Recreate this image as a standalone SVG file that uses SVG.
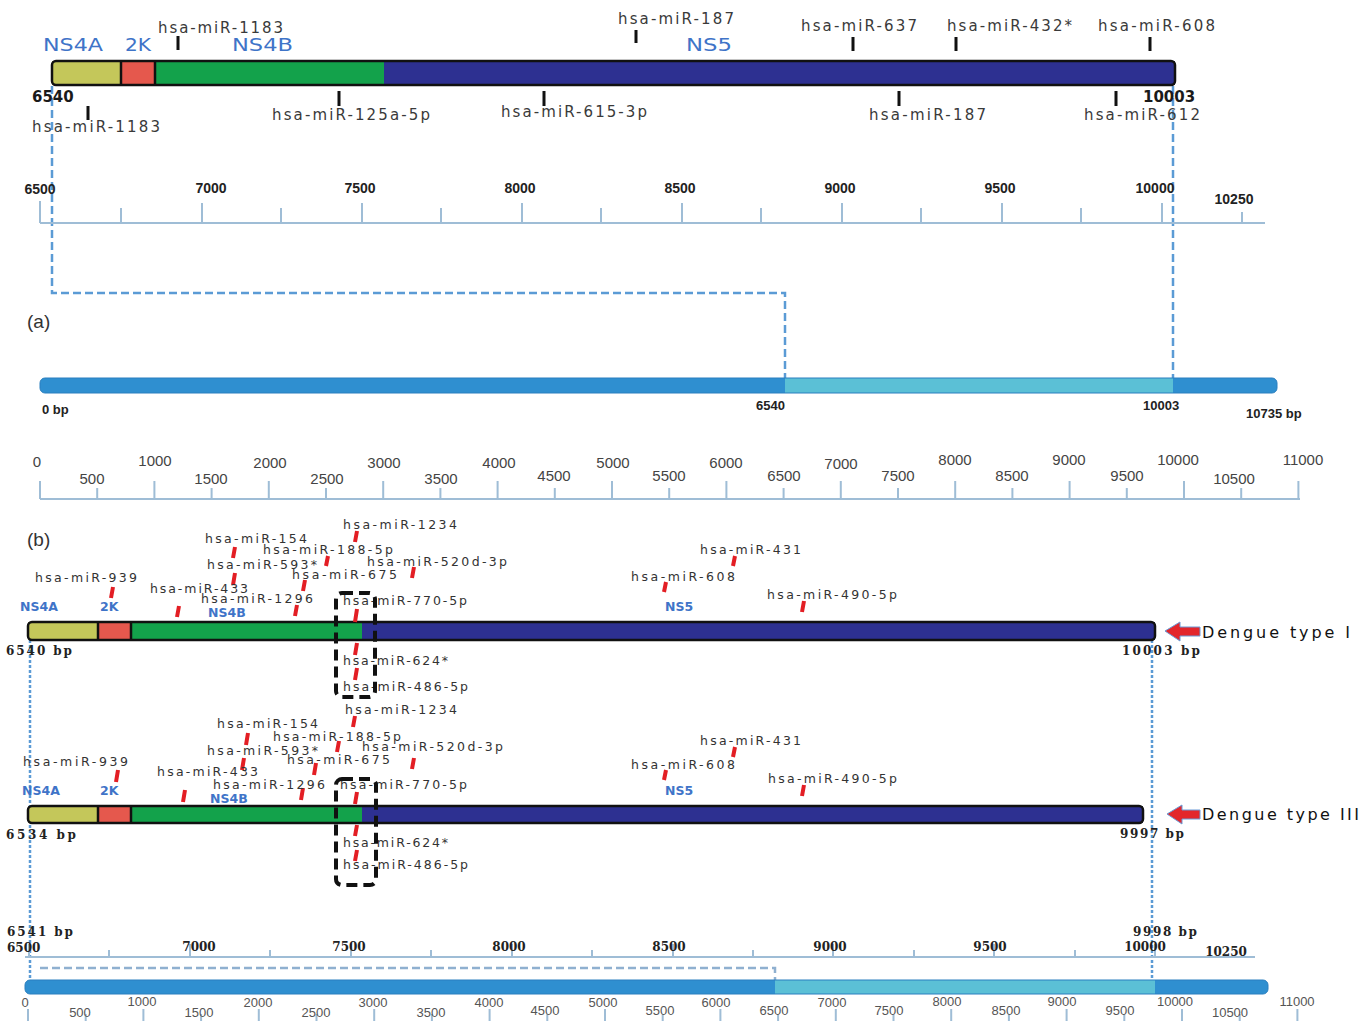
<svg xmlns="http://www.w3.org/2000/svg" width="1359" height="1021" viewBox="0 0 1359 1021">
<style>
.lt{font-family:"DejaVu Sans","Liberation Sans",sans-serif;font-size:15px;fill:#3a3a3a}
.gt{font-family:"DejaVu Sans","Liberation Sans",sans-serif;font-size:18px;fill:#3f74c8}
.nb{font-family:"DejaVu Sans","Liberation Sans",sans-serif;font-weight:bold;font-size:15px;fill:#1a1a1a}
.r1{font-family:"Liberation Sans",Arial,sans-serif;font-weight:bold;font-size:14px;fill:#222;text-anchor:middle}
.r2{font-family:"Liberation Sans",Arial,sans-serif;font-size:15px;fill:#444;text-anchor:middle}
.r4{font-family:"Liberation Sans",Arial,sans-serif;font-size:13px;fill:#555;text-anchor:middle}
.mb{font-family:"Liberation Sans",Arial,sans-serif;font-weight:bold;font-size:13px;fill:#222}
.mi{font-family:"DejaVu Sans","Liberation Sans",sans-serif;font-size:12.5px;fill:#333}
.gb{font-family:"DejaVu Sans","Liberation Sans",sans-serif;font-weight:bold;font-size:12.5px;fill:#3f74c8}
.sb{font-family:"DejaVu Serif","Liberation Serif",serif;font-weight:bold;font-size:12px;fill:#222}
.sbm{font-family:"DejaVu Serif","Liberation Serif",serif;font-weight:bold;font-size:12px;fill:#222;text-anchor:middle}
.dg{font-family:"DejaVu Sans","Liberation Sans",sans-serif;font-size:16px;fill:#111}
.pn{font-family:"Liberation Sans",Arial,sans-serif;font-size:19px;fill:#333}
.bt{stroke:#111;stroke-width:3;fill:none}
.rt{stroke:#e31e24;stroke-width:4;fill:none}
.out{fill:none;stroke:#111;stroke-width:2.5}
.rul{stroke:#9fbdd6;stroke-width:2;fill:none}
.dash{fill:none;stroke:#5b9bd5;stroke-width:2.5;stroke-dasharray:8 4}
.dot{fill:none;stroke:#5b9bd5;stroke-width:2.5;stroke-dasharray:3 2}
.box{fill:none;stroke:#111;stroke-width:4;stroke-dasharray:11 6}
.yl{fill:#c4c75a}.rd{fill:#e5584d}.gn{fill:#13a24b}.bl{fill:#2d3091}
.sep{stroke:#111;stroke-width:2.5}
.arr{fill:#e3262b;stroke:#6a9ad6;stroke-width:1}
</style>

<!-- connectors -->
<g id="connectors">
<path class="dash" d="M52 86V293H785V380"/>
<path class="dash" d="M1173 86V380"/>
<path class="dot" d="M30 640V980"/>
<path class="dot" d="M1152 640V980"/>
<path fill="none" stroke="#8fb0d0" stroke-width="2.5" stroke-dasharray="8 4" d="M40 968H775V980"/>
</g>

<!-- (a) top genome bar -->
<g id="top-bar">
<rect class="yl" x="52" y="61" width="69" height="24"/>
<rect class="rd" x="121" y="61" width="34" height="24"/>
<rect class="gn" x="155" y="61" width="229" height="24"/>
<rect class="bl" x="384" y="61" width="791" height="24"/>
<line class="sep" x1="121" y1="61" x2="121" y2="85"/>
<line class="sep" x1="155" y1="61" x2="155" y2="85"/>
<rect class="out" x="52" y="61" width="1123" height="24" rx="4"/>
<text class="gt" x="43" y="51" textLength="60" lengthAdjust="spacingAndGlyphs">NS4A</text>
<text class="gt" x="125" y="51" textLength="26" lengthAdjust="spacingAndGlyphs">2K</text>
<text class="gt" x="232" y="51" textLength="61" lengthAdjust="spacingAndGlyphs">NS4B</text>
<text class="gt" x="686" y="51" textLength="46" lengthAdjust="spacingAndGlyphs">NS5</text>
<text class="nb" x="32" y="102">6540</text>
<text class="nb" x="1143" y="102">10003</text>
</g>

<g id="top-mirnas">
<path class="bt" d="M178 36V50M636 30V43M853 37V51M956 37V51M1150 37V51M88 106V120M339 91V106M544 91V106M899 91V106M1116 91V106"/>
<text class="lt" x="158" y="33" textLength="125">hsa-miR-1183</text>
<text class="lt" x="618" y="24" textLength="116">hsa-miR-187</text>
<text class="lt" x="801" y="31" textLength="116">hsa-miR-637</text>
<text class="lt" x="947" y="31" textLength="125">hsa-miR-432*</text>
<text class="lt" x="1098" y="31" textLength="117">hsa-miR-608</text>
<text class="lt" x="32" y="132" textLength="128">hsa-miR-1183</text>
<text class="lt" x="272" y="120" textLength="158">hsa-miR-125a-5p</text>
<text class="lt" x="501" y="117" textLength="146">hsa-miR-615-3p</text>
<text class="lt" x="869" y="120" textLength="117">hsa-miR-187</text>
<text class="lt" x="1084" y="120" textLength="116">hsa-miR-612</text>
</g>

<g id="ruler-top">
<path class="rul" d="M40 223H1265"/>
<path class="rul" stroke-width="1.5" d="M40 201V223M202 203V223M362 203V223M522 203V223M682 203V223M842 203V223M1002 203V223M1162 203V223M121 208V223M281 208V223M441 208V223M601 208V223M761 208V223M921 208V223M1081 208V223M1242 212V223"/>
<text class="r1" x="40" y="194">6500</text>
<text class="r1" x="211" y="193">7000</text>
<text class="r1" x="360" y="193">7500</text>
<text class="r1" x="520" y="193">8000</text>
<text class="r1" x="680" y="193">8500</text>
<text class="r1" x="840" y="193">9000</text>
<text class="r1" x="1000" y="193">9500</text>
<text class="r1" x="1155" y="193">10000</text>
<text class="r1" x="1234" y="204">10250</text>
</g>

<text class="pn" x="27" y="328">(a)</text>

<g id="genome-a">
<rect x="40" y="378" width="1237" height="15" rx="5" fill="#2f8fd0"/>
<rect x="785" y="378" width="388" height="15" fill="#5bc0d6"/>
<rect x="40" y="378" width="1237" height="15" rx="5" fill="none" stroke="#2a7fbf" stroke-width="1"/>
<text class="mb" x="42" y="414">0 bp</text>
<text class="mb" x="756" y="410">6540</text>
<text class="mb" x="1143" y="410">10003</text>
<text class="mb" x="1246" y="418">10735 bp</text>
</g>

<g id="ruler-a">
<path class="rul" d="M40 499H1300"/>
<path class="rul" stroke-width="1.5" d="M40 481V499M154.4 481V499M268.8 481V499M383.2 481V499M497.6 481V499M612 481V499M726.4 481V499M840.8 481V499M955.2 481V499M1069.6 481V499M1184 481V499M1298.4 481V499M97.2 488V499M211.6 488V499M326 488V499M440.4 488V499M554.8 488V499M669.2 488V499M783.6 488V499M898 488V499M1012.4 488V499M1126.8 488V499M1241.2 488V499"/>
<text class="r2" x="37" y="467">0</text>
<text class="r2" x="155" y="466">1000</text>
<text class="r2" x="270" y="468">2000</text>
<text class="r2" x="384" y="468">3000</text>
<text class="r2" x="499" y="468">4000</text>
<text class="r2" x="613" y="468">5000</text>
<text class="r2" x="726" y="468">6000</text>
<text class="r2" x="841" y="469">7000</text>
<text class="r2" x="955" y="465">8000</text>
<text class="r2" x="1069" y="465">9000</text>
<text class="r2" x="1178" y="465">10000</text>
<text class="r2" x="1303" y="465">11000</text>
<text class="r2" x="92" y="484">500</text>
<text class="r2" x="211" y="484">1500</text>
<text class="r2" x="327" y="484">2500</text>
<text class="r2" x="441" y="484">3500</text>
<text class="r2" x="554" y="481">4500</text>
<text class="r2" x="669" y="481">5500</text>
<text class="r2" x="784" y="481">6500</text>
<text class="r2" x="898" y="481">7500</text>
<text class="r2" x="1012" y="481">8500</text>
<text class="r2" x="1127" y="481">9500</text>
<text class="r2" x="1234" y="484">10500</text>
</g>

<text class="pn" x="27" y="546">(b)</text>

<!-- Dengue type I -->
<g id="dengue-1">
<rect class="yl" x="28" y="622" width="70" height="18"/>
<rect class="rd" x="98" y="622" width="33" height="18"/>
<rect class="gn" x="131" y="622" width="231" height="18"/>
<rect class="bl" x="362" y="622" width="793" height="18"/>
<line class="sep" x1="98" y1="622" x2="98" y2="640"/>
<line class="sep" x1="131" y1="622" x2="131" y2="640"/>
<rect class="out" x="28" y="622" width="1127" height="18" rx="4"/>
<text class="gb" x="20" y="611">NS4A</text>
<text class="gb" x="100" y="611">2K</text>
<text class="gb" x="208" y="617">NS4B</text>
<text class="gb" x="665" y="611">NS5</text>
<text class="sb" x="6" y="655" textLength="66">6540 bp</text>
<text class="sb" x="1122" y="655" textLength="78">10003 bp</text>
<polygon class="arr" points="1165,631 1180,622 1180,627 1200,627 1200,636 1180,636 1180,641"/>
<text class="dg" x="1202" y="638" textLength="148">Dengue type I</text>
</g>
<g id="mirnas-1">
<path class="rt" d="M357 531L355 542M235 547L233 558M328 556L326 566M235 573L233 585M414 567L412 578M305 580L303 591M113 587L111 598M179 606L177 617M297 605L295 616M357 609L355 622M357 643L355 655M357 668L355 680M735 556L733 566M666 582L664 592M804 601L802 612"/>
<text class="mi" x="343" y="529" textLength="114">hsa-miR-1234</text>
<text class="mi" x="205" y="543" textLength="102">hsa-miR-154</text>
<text class="mi" x="263" y="554" textLength="130">hsa-miR-188-5p</text>
<text class="mi" x="207" y="569" textLength="110">hsa-miR-593*</text>
<text class="mi" x="367" y="566" textLength="140">hsa-miR-520d-3p</text>
<text class="mi" x="292" y="579" textLength="105">hsa-miR-675</text>
<text class="mi" x="35" y="582" textLength="102">hsa-miR-939</text>
<text class="mi" x="150" y="593" textLength="98">hsa-miR-433</text>
<text class="mi" x="201" y="603" textLength="112">hsa-miR-1296</text>
<text class="mi" x="343" y="605" textLength="124">hsa-miR-770-5p</text>
<text class="mi" x="343" y="665" textLength="105">hsa-miR-624*</text>
<text class="mi" x="343" y="691" textLength="125">hsa-miR-486-5p</text>
<text class="mi" x="700" y="554" textLength="101">hsa-miR-431</text>
<text class="mi" x="631" y="581" textLength="104">hsa-miR-608</text>
<text class="mi" x="767" y="599" textLength="130">hsa-miR-490-5p</text>
<rect class="box" x="336" y="593" width="39" height="104" rx="6"/>
</g>

<!-- Dengue type III -->
<g id="dengue-3">
<rect class="yl" x="28" y="806" width="70" height="17"/>
<rect class="rd" x="98" y="806" width="33" height="17"/>
<rect class="gn" x="131" y="806" width="231" height="17"/>
<rect class="bl" x="362" y="806" width="781" height="17"/>
<line class="sep" x1="98" y1="806" x2="98" y2="823"/>
<line class="sep" x1="131" y1="806" x2="131" y2="823"/>
<rect class="out" x="28" y="806" width="1115" height="17" rx="4"/>
<text class="gb" x="22" y="795">NS4A</text>
<text class="gb" x="100" y="795">2K</text>
<text class="gb" x="210" y="803">NS4B</text>
<text class="gb" x="665" y="795">NS5</text>
<text class="sb" x="6" y="839" textLength="70">6534 bp</text>
<text class="sb" x="1120" y="838" textLength="64">9997 bp</text>
<polygon class="arr" points="1167,814 1182,805 1182,810 1200,810 1200,819 1182,819 1182,824"/>
<text class="dg" x="1202" y="820" textLength="157">Dengue type III</text>
</g>
<g id="mirnas-3">
<path class="rt" d="M355 716L353 727M248 733L246 745M339 741L337 752M244 758L242 770M414 758L412 769M316 763L314 775M118 770L116 782M185 790L183 802M303 788L301 800M357 792L355 804M357 825L355 836M357 850L355 861M735 747L733 757M666 770L664 780M804 785L802 796"/>
<text class="mi" x="345" y="714" textLength="112">hsa-miR-1234</text>
<text class="mi" x="217" y="728" textLength="101">hsa-miR-154</text>
<text class="mi" x="273" y="741" textLength="128">hsa-miR-188-5p</text>
<text class="mi" x="207" y="755" textLength="111">hsa-miR-593*</text>
<text class="mi" x="362" y="751" textLength="141">hsa-miR-520d-3p</text>
<text class="mi" x="287" y="764" textLength="103">hsa-miR-675</text>
<text class="mi" x="23" y="766" textLength="105">hsa-miR-939</text>
<text class="mi" x="157" y="776" textLength="101">hsa-miR-433</text>
<text class="mi" x="213" y="789" textLength="112">hsa-miR-1296</text>
<text class="mi" x="340" y="789" textLength="127">hsa-miR-770-5p</text>
<text class="mi" x="343" y="847" textLength="105">hsa-miR-624*</text>
<text class="mi" x="343" y="869" textLength="125">hsa-miR-486-5p</text>
<text class="mi" x="700" y="745" textLength="101">hsa-miR-431</text>
<text class="mi" x="631" y="769" textLength="104">hsa-miR-608</text>
<text class="mi" x="768" y="783" textLength="129">hsa-miR-490-5p</text>
<rect class="box" x="336" y="779" width="40" height="106" rx="6"/>
</g>

<!-- bottom ruler and genome -->
<g id="ruler-b">
<text class="sb" x="7" y="936" textLength="66">6541 bp</text>
<text class="sb" x="1133" y="936" textLength="64">9998 bp</text>
<path class="rul" stroke="#b5cde0" d="M25 957H1255"/>
<path class="rul" stroke-width="1.2" d="M29 944V957M190 944V957M351 944V957M512 944V957M673 944V957M833 944V957M994 944V957M1155 944V957M109 950V957M270 950V957M431 950V957M592 950V957M753 950V957M914 950V957M1075 950V957"/>
<text class="sb" x="7" y="952">6500</text>
<text class="sbm" x="199" y="951">7000</text>
<text class="sbm" x="349" y="951">7500</text>
<text class="sbm" x="509" y="951">8000</text>
<text class="sbm" x="669" y="951">8500</text>
<text class="sbm" x="830" y="951">9000</text>
<text class="sbm" x="990" y="951">9500</text>
<text class="sbm" x="1145" y="951">10000</text>
<text class="sbm" x="1226" y="956">10250</text>
</g>
<g id="genome-b">
<rect x="25" y="980" width="1243" height="14" rx="5" fill="#2f8fd0"/>
<rect x="775" y="980" width="380" height="14" fill="#5bc0d6"/>
<rect x="25" y="980" width="1243" height="14" rx="5" fill="none" stroke="#2a7fbf" stroke-width="1"/>
</g>
<g id="ruler-b2">
<path class="rul" stroke-width="1.2" d="M28 1009V1021M143.4 1009V1021M258.8 1009V1021M374.2 1009V1021M489.6 1009V1021M605 1009V1021M720.4 1009V1021M835.8 1009V1021M951.2 1009V1021M1066.6 1009V1021M1182 1009V1021M1297.4 1009V1021M85.7 1014V1021M201.1 1014V1021M316.5 1014V1021M431.9 1014V1021M547.3 1014V1021M662.7 1014V1021M778.1 1014V1021M893.5 1014V1021M1008.9 1014V1021M1124.3 1014V1021M1239.7 1014V1021"/>
<text class="r4" x="25" y="1007">0</text>
<text class="r4" x="142" y="1006">1000</text>
<text class="r4" x="258" y="1007">2000</text>
<text class="r4" x="373" y="1007">3000</text>
<text class="r4" x="489" y="1007">4000</text>
<text class="r4" x="603" y="1007">5000</text>
<text class="r4" x="716" y="1007">6000</text>
<text class="r4" x="832" y="1007">7000</text>
<text class="r4" x="947" y="1006">8000</text>
<text class="r4" x="1062" y="1006">9000</text>
<text class="r4" x="1175" y="1006">10000</text>
<text class="r4" x="1297" y="1006">11000</text>
<text class="r4" x="80" y="1017">500</text>
<text class="r4" x="199" y="1017">1500</text>
<text class="r4" x="316" y="1017">2500</text>
<text class="r4" x="431" y="1017">3500</text>
<text class="r4" x="545" y="1015">4500</text>
<text class="r4" x="660" y="1015">5500</text>
<text class="r4" x="774" y="1015">6500</text>
<text class="r4" x="889" y="1015">7500</text>
<text class="r4" x="1006" y="1015">8500</text>
<text class="r4" x="1120" y="1015">9500</text>
<text class="r4" x="1230" y="1017">10500</text>
</g>
</svg>
